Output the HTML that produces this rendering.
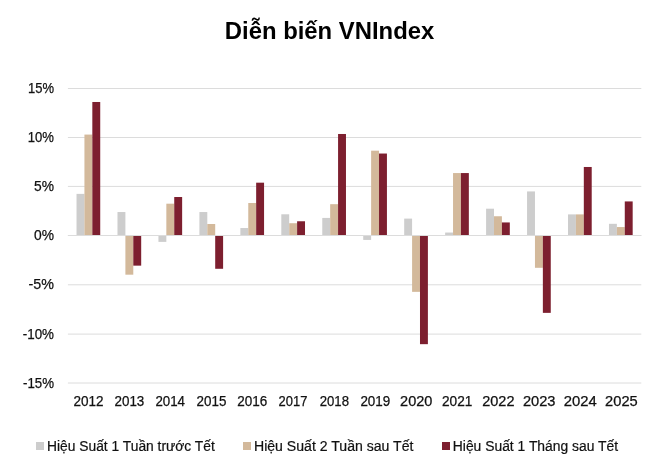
<!DOCTYPE html>
<html><head><meta charset="utf-8"><style>
html,body{margin:0;padding:0;background:#fff;}
body{width:655px;height:465px;overflow:hidden;position:relative;}
svg{position:absolute;left:0;top:0;will-change:transform;}
.ax{font-family:"Liberation Sans",sans-serif;font-size:13.8px;fill:#111111;stroke:#111111;stroke-width:0.25px;}
.lg{font-family:"Liberation Sans",sans-serif;font-size:13.8px;fill:#111111;stroke:#111111;stroke-width:0.2px;}
.tt{font-family:"Liberation Sans",sans-serif;font-size:23.5px;font-weight:bold;fill:#000;}
</style></head><body>
<svg width="655" height="465" viewBox="0 0 655 465">
<text x="224.8" y="38.6" textLength="209.5" lengthAdjust="spacingAndGlyphs" class="tt">Diễn biến VNIndex</text>
<line x1="67.9" x2="641.3" y1="88.50" y2="88.50" stroke="#dcdcdc" stroke-width="1"/>
<text x="54" y="93.20" text-anchor="end" textLength="26.0" lengthAdjust="spacingAndGlyphs" class="ax">15%</text>
<line x1="67.9" x2="641.3" y1="137.50" y2="137.50" stroke="#dcdcdc" stroke-width="1"/>
<text x="54" y="142.20" text-anchor="end" textLength="26.2" lengthAdjust="spacingAndGlyphs" class="ax">10%</text>
<line x1="67.9" x2="641.3" y1="186.40" y2="186.40" stroke="#dcdcdc" stroke-width="1"/>
<text x="54" y="191.10" text-anchor="end" class="ax">5%</text>
<line x1="67.9" x2="641.3" y1="235.50" y2="235.50" stroke="#dcdcdc" stroke-width="1"/>
<text x="54" y="240.20" text-anchor="end" class="ax">0%</text>
<line x1="67.9" x2="641.3" y1="284.80" y2="284.80" stroke="#dcdcdc" stroke-width="1"/>
<text x="54" y="289.00" text-anchor="end" textLength="25.4" lengthAdjust="spacingAndGlyphs" class="ax">-5%</text>
<line x1="67.9" x2="641.3" y1="334.10" y2="334.10" stroke="#dcdcdc" stroke-width="1"/>
<text x="54" y="338.80" text-anchor="end" textLength="31.2" lengthAdjust="spacingAndGlyphs" class="ax">-10%</text>
<line x1="67.9" x2="641.3" y1="383.00" y2="383.00" stroke="#dcdcdc" stroke-width="1"/>
<text x="54" y="387.70" text-anchor="end" textLength="31.0" lengthAdjust="spacingAndGlyphs" class="ax">-15%</text>
<rect x="76.53" y="193.87" width="7.90" height="41.13" fill="#cdcdcd"/>
<rect x="84.43" y="134.58" width="7.90" height="100.42" fill="#d3b99b"/>
<rect x="92.33" y="101.99" width="7.90" height="133.01" fill="#7d1f2f"/>
<text x="88.55" y="405.9" text-anchor="middle" textLength="30.10" lengthAdjust="spacingAndGlyphs" class="ax">2012</text>
<rect x="117.49" y="212.03" width="7.90" height="22.97" fill="#cdcdcd"/>
<rect x="125.39" y="236.00" width="7.90" height="38.68" fill="#d3b99b"/>
<rect x="133.29" y="236.00" width="7.90" height="29.64" fill="#7d1f2f"/>
<text x="129.40" y="405.9" text-anchor="middle" textLength="29.80" lengthAdjust="spacingAndGlyphs" class="ax">2013</text>
<rect x="158.44" y="236.00" width="7.90" height="5.89" fill="#cdcdcd"/>
<rect x="166.34" y="203.69" width="7.90" height="31.31" fill="#d3b99b"/>
<rect x="174.24" y="197.01" width="7.90" height="37.99" fill="#7d1f2f"/>
<text x="170.20" y="405.9" text-anchor="middle" textLength="29.60" lengthAdjust="spacingAndGlyphs" class="ax">2014</text>
<rect x="199.40" y="212.03" width="7.90" height="22.97" fill="#cdcdcd"/>
<rect x="207.30" y="224.01" width="7.90" height="10.99" fill="#d3b99b"/>
<rect x="215.20" y="236.00" width="7.90" height="32.79" fill="#7d1f2f"/>
<text x="211.50" y="405.9" text-anchor="middle" textLength="29.80" lengthAdjust="spacingAndGlyphs" class="ax">2015</text>
<rect x="240.36" y="228.03" width="7.90" height="6.97" fill="#cdcdcd"/>
<rect x="248.26" y="203.00" width="7.90" height="32.00" fill="#d3b99b"/>
<rect x="256.16" y="182.68" width="7.90" height="52.32" fill="#7d1f2f"/>
<text x="252.30" y="405.9" text-anchor="middle" textLength="30.00" lengthAdjust="spacingAndGlyphs" class="ax">2016</text>
<rect x="281.31" y="214.29" width="7.90" height="20.71" fill="#cdcdcd"/>
<rect x="289.21" y="223.22" width="7.90" height="11.78" fill="#d3b99b"/>
<rect x="297.11" y="221.26" width="7.90" height="13.74" fill="#7d1f2f"/>
<text x="293.00" y="405.9" text-anchor="middle" textLength="28.80" lengthAdjust="spacingAndGlyphs" class="ax">2017</text>
<rect x="322.27" y="217.92" width="7.90" height="17.08" fill="#cdcdcd"/>
<rect x="330.17" y="204.18" width="7.90" height="30.82" fill="#d3b99b"/>
<rect x="338.07" y="133.99" width="7.90" height="101.01" fill="#7d1f2f"/>
<text x="334.35" y="405.9" text-anchor="middle" textLength="29.30" lengthAdjust="spacingAndGlyphs" class="ax">2018</text>
<rect x="363.23" y="236.00" width="7.90" height="3.93" fill="#cdcdcd"/>
<rect x="371.13" y="150.68" width="7.90" height="84.32" fill="#d3b99b"/>
<rect x="379.03" y="153.53" width="7.90" height="81.47" fill="#7d1f2f"/>
<text x="375.35" y="405.9" text-anchor="middle" textLength="29.90" lengthAdjust="spacingAndGlyphs" class="ax">2019</text>
<rect x="404.19" y="218.61" width="7.90" height="16.39" fill="#cdcdcd"/>
<rect x="412.09" y="236.00" width="7.90" height="55.85" fill="#d3b99b"/>
<rect x="419.99" y="236.00" width="7.90" height="108.17" fill="#7d1f2f"/>
<text x="416.25" y="405.9" text-anchor="middle" textLength="32.30" lengthAdjust="spacingAndGlyphs" class="ax">2020</text>
<rect x="445.14" y="232.55" width="7.90" height="2.45" fill="#cdcdcd"/>
<rect x="453.04" y="173.06" width="7.90" height="61.94" fill="#d3b99b"/>
<rect x="460.94" y="173.06" width="7.90" height="61.94" fill="#7d1f2f"/>
<text x="457.20" y="405.9" text-anchor="middle" textLength="30.40" lengthAdjust="spacingAndGlyphs" class="ax">2021</text>
<rect x="486.10" y="208.69" width="7.90" height="26.31" fill="#cdcdcd"/>
<rect x="494.00" y="216.25" width="7.90" height="18.75" fill="#d3b99b"/>
<rect x="501.90" y="222.44" width="7.90" height="12.56" fill="#7d1f2f"/>
<text x="498.35" y="405.9" text-anchor="middle" textLength="32.30" lengthAdjust="spacingAndGlyphs" class="ax">2022</text>
<rect x="527.06" y="191.42" width="7.90" height="43.58" fill="#cdcdcd"/>
<rect x="534.96" y="236.00" width="7.90" height="31.80" fill="#d3b99b"/>
<rect x="542.86" y="236.00" width="7.90" height="76.86" fill="#7d1f2f"/>
<text x="539.20" y="405.9" text-anchor="middle" textLength="32.60" lengthAdjust="spacingAndGlyphs" class="ax">2023</text>
<rect x="568.01" y="214.39" width="7.90" height="20.61" fill="#cdcdcd"/>
<rect x="575.91" y="214.39" width="7.90" height="20.61" fill="#d3b99b"/>
<rect x="583.81" y="166.98" width="7.90" height="68.02" fill="#7d1f2f"/>
<text x="580.20" y="405.9" text-anchor="middle" textLength="33.00" lengthAdjust="spacingAndGlyphs" class="ax">2024</text>
<rect x="608.97" y="223.81" width="7.90" height="11.19" fill="#cdcdcd"/>
<rect x="616.87" y="227.05" width="7.90" height="7.95" fill="#d3b99b"/>
<rect x="624.77" y="201.43" width="7.90" height="33.57" fill="#7d1f2f"/>
<text x="621.40" y="405.9" text-anchor="middle" textLength="32.60" lengthAdjust="spacingAndGlyphs" class="ax">2025</text>
<rect x="36.0" y="442" width="8" height="8" fill="#cdcdcd"/>
<text x="47.0" y="450.9" textLength="167.8" lengthAdjust="spacingAndGlyphs" class="lg">Hiệu Suất 1 Tuần trước Tết</text>
<rect x="243.0" y="442" width="8" height="8" fill="#d3b99b"/>
<text x="254.0" y="450.9" textLength="159.4" lengthAdjust="spacingAndGlyphs" class="lg">Hiệu Suất 2 Tuần sau Tết</text>
<rect x="442.0" y="442" width="8" height="8" fill="#7d1f2f"/>
<text x="452.8" y="450.9" textLength="165.3" lengthAdjust="spacingAndGlyphs" class="lg">Hiệu Suất 1 Tháng sau Tết</text>
<line x1="67.9" x2="641.3" y1="235.5" y2="235.5" stroke="#dcdcdc" stroke-width="1"/>
</svg>
</body></html>
